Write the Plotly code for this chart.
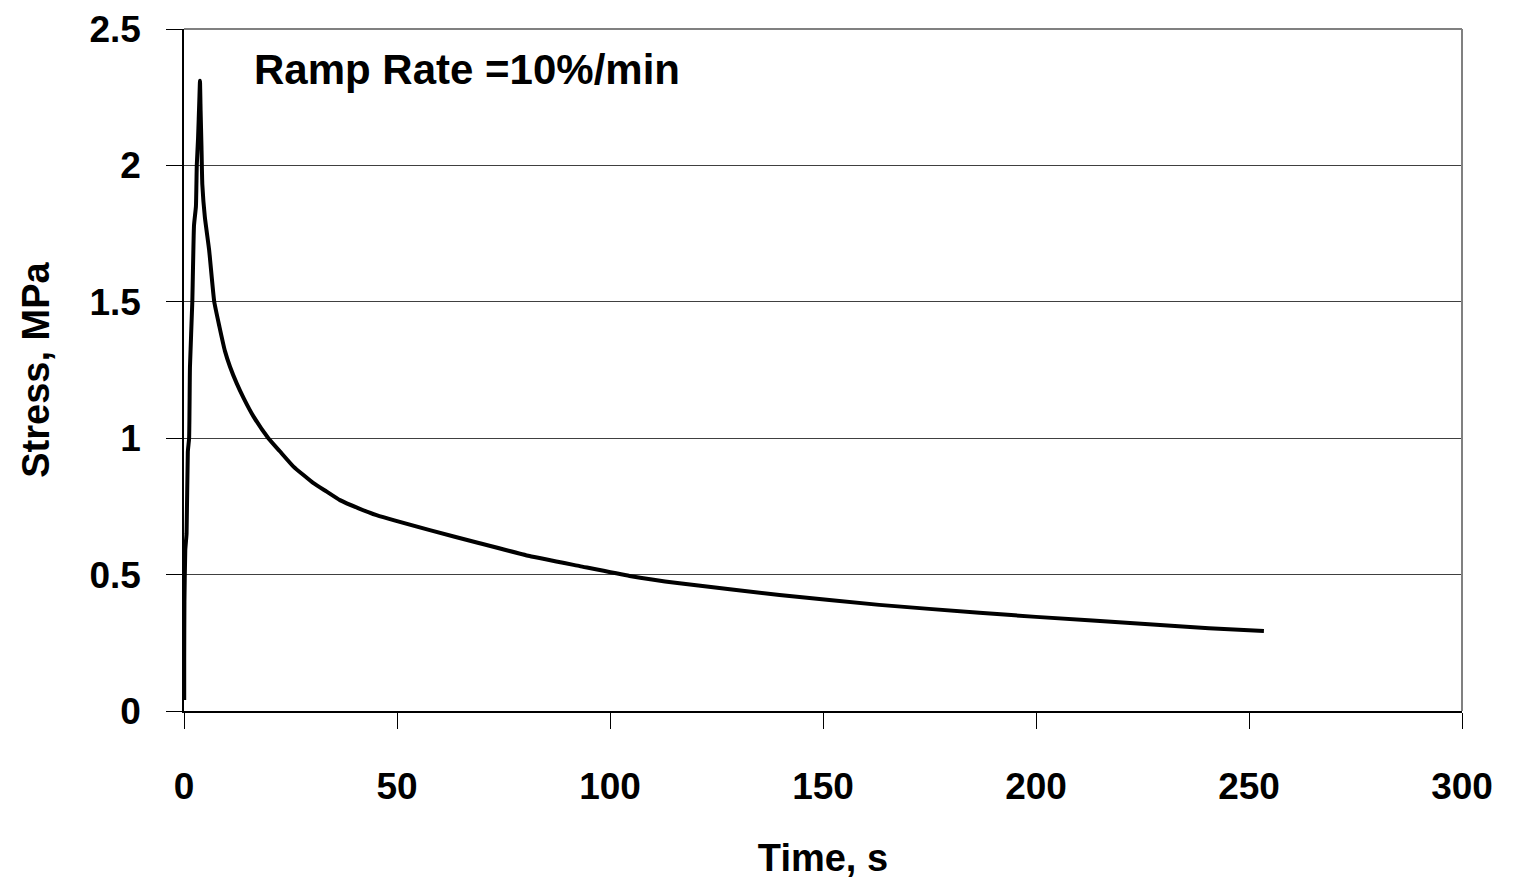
import plotly.graph_objects as go

# Data
time_s = [0.05, 0.05, 0.1, 0.3, 0.6, 0.9, 1.2, 1.4, 1.95, 2.35, 2.8, 3.0, 3.3, 3.6, 3.75,
          3.9, 4.1, 4.3, 4.9, 5.9, 7.1, 8.3, 9.6, 10.8, 12.4, 14.0, 16.3, 19.8, 22.5,
          25.7, 30.4, 33.5, 36.6, 41.0, 45.2, 57.7, 69.4, 81.1, 92.9, 104.6, 116.3,
          139.8, 163.2, 186.7, 200.0, 226.5, 240.6, 253.5]
stress_mpa = [0.04, 0.19, 0.40, 0.59, 0.65, 0.95, 1.00, 1.26, 1.50, 1.78, 1.85, 2.00,
              2.10, 2.24, 2.31, 2.20, 2.07, 1.93, 1.81, 1.69, 1.50, 1.41, 1.32, 1.262,
              1.20, 1.147, 1.08, 1.00, 0.952, 0.896, 0.835, 0.804, 0.773, 0.743, 0.718,
              0.663, 0.615, 0.568, 0.531, 0.495, 0.468, 0.425, 0.389, 0.360, 0.345,
              0.318, 0.303, 0.293]

x_ticks = [0, 50, 100, 150, 200, 250, 300]
y_ticks = [0, 0.5, 1, 1.5, 2, 2.5]
y_tick_text = ["0", "0.5", "1", "1.5", "2", "2.5"]
annotation_text = "Ramp Rate =10%/min"

FONT = "Liberation Sans, Arial, sans-serif"

fig = go.Figure()
fig.add_trace(go.Scatter(
    x=time_s, y=stress_mpa, mode="lines",
    line=dict(color="black", width=4, shape="spline", smoothing=0.4),
    showlegend=False, hoverinfo="skip",
))

fig.update_layout(
    width=1509, height=872,
    margin=dict(l=176, r=55, t=21, b=169),
    paper_bgcolor="white", plot_bgcolor="white",
    font=dict(family=FONT, color="black"),
    xaxis=dict(
        range=[0, 300], tickvals=x_ticks, automargin=False,
        ticks="outside", ticklen=16, tickcolor="black", tickwidth=1,
        showline=True, linecolor="black", linewidth=1.5,
        showgrid=False, zeroline=False,
        tickfont=dict(size=37, family=FONT, weight="bold"),
        ticklabelstandoff=26,
        title=dict(text="Time, s", font=dict(size=38, family=FONT, weight="bold"),
                   standoff=38),
    ),
    yaxis=dict(
        range=[0, 2.5], tickvals=y_ticks, ticktext=y_tick_text, automargin=False,
        ticks="outside", ticklen=16, tickcolor="black", tickwidth=1,
        showline=True, linecolor="black", linewidth=1.5,
        showgrid=True, gridcolor="#404040", gridwidth=1,
        zeroline=False,
        tickfont=dict(size=37, family=FONT, weight="bold"),
        ticklabelstandoff=18,
        title=dict(text="Stress, MPa", font=dict(size=38, family=FONT, weight="bold"),
                   standoff=28),
    ),
    shapes=[
        dict(type="line", xref="paper", yref="paper", x0=0, x1=1, y0=1, y1=1,
             line=dict(color="#808080", width=2)),
        dict(type="line", xref="paper", yref="paper", x0=1, x1=1, y0=0, y1=1,
             line=dict(color="#808080", width=2)),
    ],
    annotations=[
        dict(text=annotation_text, x=16.0, y=2.35, xref="x", yref="y",
             xanchor="left", yanchor="middle", showarrow=False,
             font=dict(size=42, family=FONT, weight="bold", color="black")),
    ],
)

fig.write_html("out.html")
